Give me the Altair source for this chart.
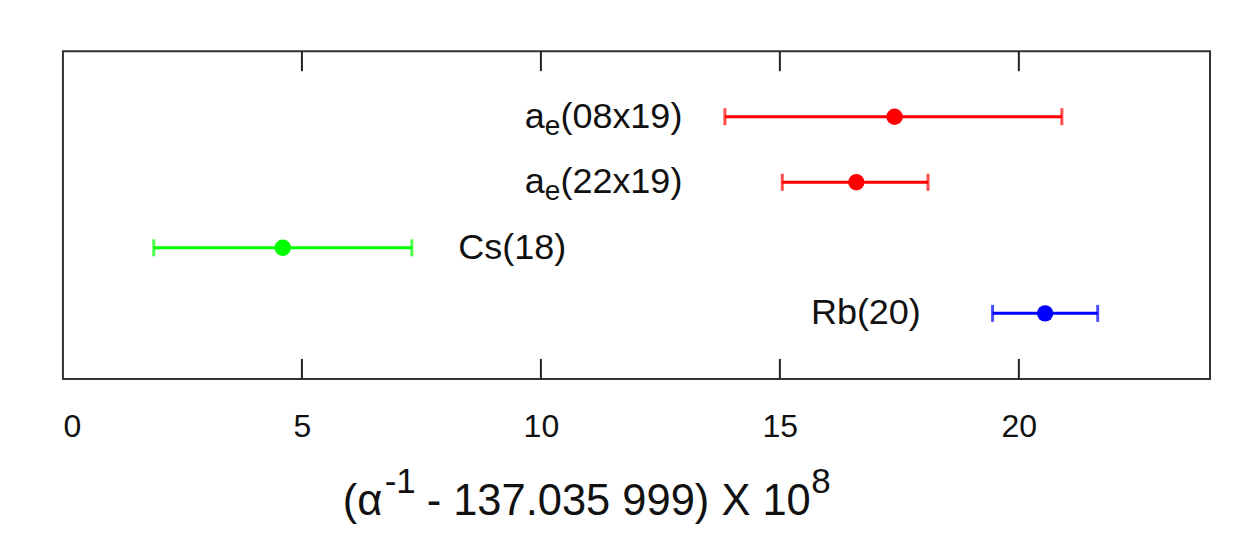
import altair as alt
import pandas as pd

# label pieces: lead + subscript + tail
lead = ["a", "a", "", ""]
sub = ["e", "e", "", ""]
tail = ["(08x19)", "(22x19)", "Cs(18)", "Rb(20)"]
values = [17.4, 16.6, 4.6, 20.55]
lo = [13.85, 15.05, 1.9, 19.45]
hi = [20.9, 18.1, 7.3, 21.65]
rows = [4, 3, 2, 1]
colors = ["#ff0000", "#ff0000", "#00ff00", "#0000ff"]
label_x = [12.96, 12.96, 8.27, 17.95]
label_side = ["left", "left", "right", "left"]
tick_values = [5, 10, 15, 20]
tick_labels = [0, 5, 10, 15, 20]
title_parts = ["(α", "-1", "- 137.035 999) X 10", "8"]
title_super = [False, True, False, True]

df = pd.DataFrame({"lead": lead, "sub": sub, "tail": tail, "value": values, "lo": lo, "hi": hi,
                   "row": rows, "color": colors, "lx": label_x, "side": label_side})
ticks = pd.DataFrame({"t": tick_values})

W, H = 1148, 328
FONT = "Liberation Sans"
S = 36      # label font size
SS = 28     # subscript font size
TAILW = 3.39 * S
SUBW = 0.556 * SS

xs = alt.Scale(domain=[0, 24], nice=False, zero=False)
ys = alt.Scale(domain=[0, 5], nice=False, zero=False)

xaxis = alt.Axis(values=tick_labels, ticks=False, domain=False, grid=False,
                 labelFontSize=32, labelFont=FONT, labelColor="#111",
                 labelPadding=33, title=None)

base = alt.Chart(df)
X = lambda f: alt.X(f, scale=xs)
Y = alt.Y("row:Q", scale=ys, axis=None)
C = alt.Color("color:N", scale=None)

bars = base.mark_rule(strokeWidth=3).encode(
    x=alt.X("lo:Q", scale=xs, axis=xaxis), x2="hi:Q", y=Y, color=C)
caps_lo = base.mark_tick(orient="vertical", thickness=3, size=17).encode(x=X("lo:Q"), y=Y, color=C)
caps_hi = base.mark_tick(orient="vertical", thickness=3, size=17).encode(x=X("hi:Q"), y=Y, color=C)
dots = base.mark_circle(size=270, opacity=1).encode(x=X("value:Q"), y=Y, color=C)

left = base.transform_filter(alt.datum.side == "left")
right = base.transform_filter(alt.datum.side == "right")
ae = base.transform_filter(alt.datum.sub != "")

txt_tail_l = left.mark_text(align="right", baseline="middle", fontSize=S, font=FONT, color="#111").encode(
    x=X("lx:Q"), y=Y, text="tail:N")
txt_tail_r = right.mark_text(align="left", baseline="middle", fontSize=S, font=FONT, color="#111").encode(
    x=X("lx:Q"), y=Y, text="tail:N")
txt_sub = ae.mark_text(align="right", baseline="middle", fontSize=SS, font=FONT, color="#111",
                       dx=-TAILW, dy=10).encode(x=X("lx:Q"), y=Y, text="sub:N")
txt_lead = ae.mark_text(align="right", baseline="middle", fontSize=S, font=FONT, color="#111",
                        dx=-(TAILW + SUBW)).encode(x=X("lx:Q"), y=Y, text="lead:N")

top_ticks = alt.Chart(ticks).mark_rule(color="#222", strokeWidth=2).encode(
    x=alt.X("t:Q", scale=xs), y=alt.value(0), y2=alt.value(20))
bot_ticks = alt.Chart(ticks).mark_rule(color="#222", strokeWidth=2).encode(
    x=alt.X("t:Q", scale=xs), y=alt.value(H - 20), y2=alt.value(H))

# axis title composed of pieces (superscripts)
title_x = [280, 322, 364, 749]
title_layers = []
for part, sup, tx in zip(title_parts, title_super, title_x):
    tdf = pd.DataFrame({"t": [part]})
    title_layers.append(alt.Chart(tdf).mark_text(
        align="left", baseline="alphabetic", fontSize=35 if sup else 43.5, font=FONT, color="#111").encode(
        x=alt.value(tx), y=alt.value(442 if sup else 464), text="t:N"))

chart = alt.layer(bars, caps_lo, caps_hi, dots, txt_tail_l, txt_tail_r, txt_sub, txt_lead,
                  top_ticks, bot_ticks, *title_layers).properties(
    width=W, height=H,
    autosize=alt.AutoSizeParams(type="none"),
    padding={"left": 55, "top": 43, "right": 20, "bottom": 155},
    background="white",
).configure_view(stroke="#333", strokeWidth=2)

chart.save("out.html", embed_options={"renderer": "svg", "actions": False})
